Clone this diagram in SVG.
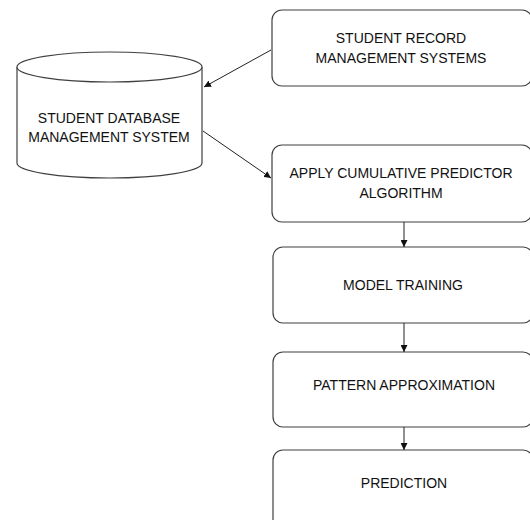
<svg xmlns="http://www.w3.org/2000/svg" width="530" height="520" viewBox="0 0 530 520">
<style>
.box{fill:#fff;stroke:#404040;stroke-width:1.2}
.t{font-family:"Liberation Sans",Arial,sans-serif;font-size:14px;fill:#111;text-anchor:middle}
.c{stroke:#222;stroke-width:1;fill:none}
</style>
<defs>
<marker id="ah" viewBox="0 0 10 10" refX="10" refY="5" markerWidth="7" markerHeight="7" orient="auto" markerUnits="userSpaceOnUse">
<path d="M0,0 L10,5 L0,10 z" fill="#111"/>
</marker>
</defs>
<rect width="530" height="520" fill="#fff"/>
<g id="db">
<path class="box" d="M17,67 L17,163 A92.5,15 0 0 0 202,163 L202,67"/>
<ellipse class="box" cx="109.5" cy="67" rx="92.5" ry="15"/>
<text class="t" x="109" y="123">STUDENT DATABASE</text>
<text class="t" x="109" y="142">MANAGEMENT SYSTEM</text>
</g>
<g id="record">
<rect class="box" x="272" y="10" width="260" height="76" rx="10"/>
<text class="t" x="401" y="43">STUDENT RECORD</text>
<text class="t" x="401" y="63">MANAGEMENT SYSTEMS</text>
</g>
<g id="apply">
<rect class="box" x="272" y="145" width="260" height="77" rx="10"/>
<text class="t" x="401" y="178">APPLY CUMULATIVE PREDICTOR</text>
<text class="t" x="401" y="198">ALGORITHM</text>
</g>
<g id="training">
<rect class="box" x="273" y="247" width="260" height="76" rx="10"/>
<text class="t" x="403" y="290">MODEL TRAINING</text>
</g>
<g id="pattern">
<rect class="box" x="273" y="352" width="260" height="75" rx="10"/>
<text class="t" x="404" y="390">PATTERN APPROXIMATION</text>
</g>
<g id="prediction">
<rect class="box" x="273" y="450" width="260" height="90" rx="10"/>
<text class="t" x="404" y="488">PREDICTION</text>
</g>
<g id="connectors">
<line class="c" x1="271" y1="50" x2="204" y2="87" marker-end="url(#ah)"/>
<line class="c" x1="203" y1="131" x2="271" y2="178" marker-end="url(#ah)"/>
<line class="c" x1="404" y1="222" x2="404" y2="247" marker-end="url(#ah)"/>
<line class="c" x1="404" y1="323" x2="404" y2="352" marker-end="url(#ah)"/>
<line class="c" x1="404" y1="427" x2="404" y2="450" marker-end="url(#ah)"/>
</g>
</svg>
